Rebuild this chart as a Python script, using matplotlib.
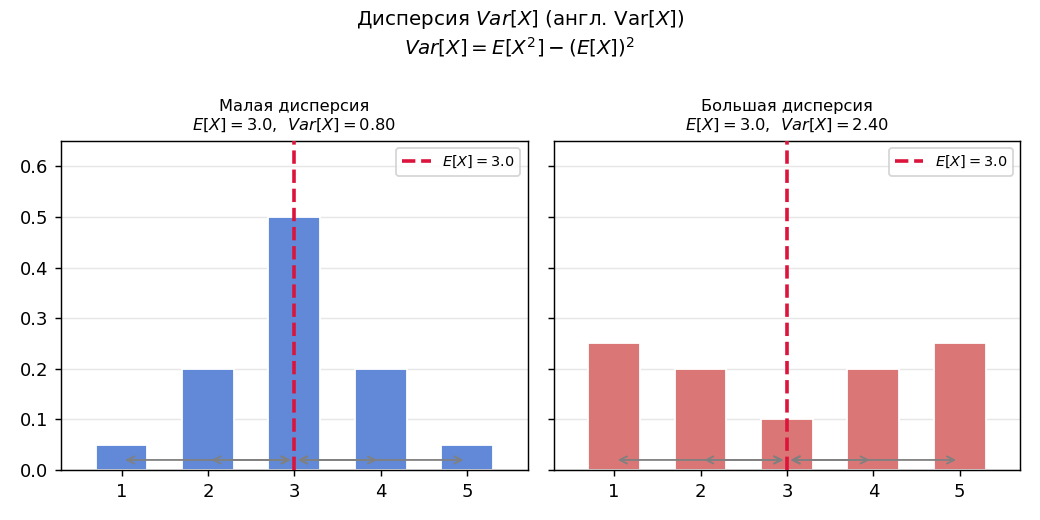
import matplotlib
matplotlib.use("Agg")
import matplotlib.pyplot as plt

x_values = [1, 2, 3, 4, 5]
p_small = [0.05, 0.20, 0.50, 0.20, 0.05]
p_large = [0.25, 0.20, 0.10, 0.20, 0.25]
mean_value = 3.0
var_small = 0.80
var_large = 2.40
titles = ["Малая дисперсия", "Большая дисперсия"]
colors = ["#6189d7", "#db7676"]

DPI = 130
fig, axes = plt.subplots(1, 2, figsize=(1040 / DPI, 520 / DPI), dpi=DPI, sharey=True)
fig.subplots_adjust(left=0.0587, right=0.981, top=0.729, bottom=0.096, wspace=0.056)

for ax, probs, var, title, color in zip(axes, [p_small, p_large], [var_small, var_large], titles, colors):
    ax.bar(x_values, probs, width=0.6, color=color, edgecolor="white", linewidth=1, zorder=2)
    ax.axvline(mean_value, color="crimson", linestyle="--", linewidth=2,
               label=f"$E[X] = {mean_value:.1f}$", zorder=4)
    for xv in x_values:
        if xv == mean_value:
            continue
        ax.annotate("", xy=(xv, 0.02), xytext=(mean_value, 0.02),
                    arrowprops=dict(arrowstyle="<->", color="gray", lw=1), zorder=3)
    ax.set_title(f"{title}\n$E[X] = {mean_value:.1f}$,  $Var[X] = {var:.2f}$", fontsize=9)
    ax.set_xticks(x_values)
    ax.set_xlim(0.3, 5.7)
    ax.set_ylim(0, 0.65)
    ax.grid(axis="y", alpha=0.3, zorder=0)
    ax.set_axisbelow(True)
    ax.legend(loc="upper right", fontsize=8)

fig.suptitle("Дисперсия $Var[X]$ (англ. Var$[X]$)\n$Var[X] = E[X^2] - (E[X])^2$", fontsize=11, y=0.985)
fig.savefig("out.png", dpi=DPI)
